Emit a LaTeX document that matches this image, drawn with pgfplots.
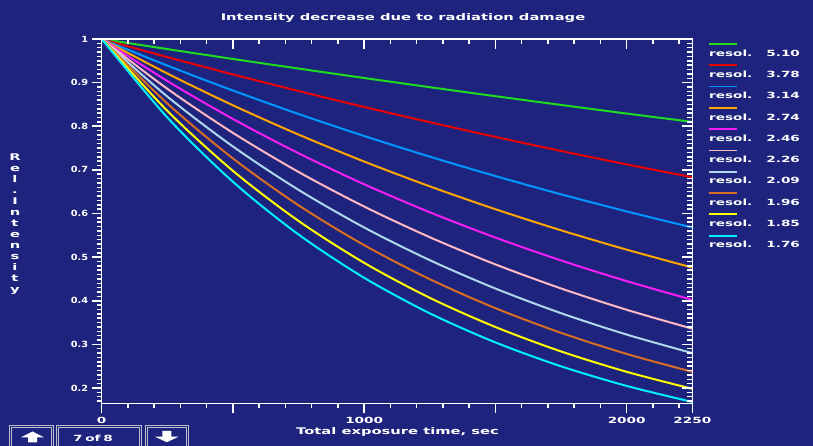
\documentclass[border=0pt]{standalone}
\usepackage{pgfplots}
\pgfplotsset{compat=1.18}
\usepackage{fontspec}
\newfontfamily\labfont{DejaVu Sans}[FakeStretch=1.6]
\newfontfamily\ylabfont{DejaVu Sans}[FakeStretch=1.15]
\newcommand\lf{\labfont\bfseries\fontsize{8.5}{10}\selectfont}
\newcommand\tf{\labfont\bfseries\fontsize{9.2}{11}\selectfont}
\newcommand\yf{\ylabfont\bfseries\fontsize{8.5}{10}\selectfont}
\definecolor{bg}{RGB}{30,36,125}
\definecolor{btn}{RGB}{190,190,205}
\definecolor{c1}{RGB}{30,220,30}
\definecolor{c2}{RGB}{235,0,0}
\definecolor{c3}{RGB}{0,150,255}
\definecolor{c4}{RGB}{255,165,0}
\definecolor{c5}{RGB}{245,30,245}
\definecolor{c6}{RGB}{255,185,195}
\definecolor{c7}{RGB}{173,216,235}
\definecolor{c8}{RGB}{215,110,35}
\definecolor{c9}{RGB}{255,255,0}
\definecolor{c10}{RGB}{0,240,255}
\begin{document}
\begin{tikzpicture}
\fill[bg] (0pt,0pt) rectangle (813pt,446pt);
\path[use as bounding box] (0pt,0pt) rectangle (813pt,446pt);
\begin{axis}[at={(101.7pt,42.5pt)}, anchor=south west, scale only axis,
    width=590.6pt, height=364.5pt,
    xmin=0, xmax=2250, ymin=0.1645, ymax=1,
    axis line style={draw=white, line width=1.2pt},
    xtick={0,500,1000,1500,2000,2250},
    minor xtick={100,200,300,400,600,700,800,900,1100,1200,1300,1400,1600,1700,1800,1900,2100,2200},
    ytick={0.2,0.3,0.4,0.5,0.6,0.7,0.8,0.9,1},
    minor ytick={0.17,0.18,0.19,0.21,0.22,0.23,0.24,0.25,0.26,0.27,0.28,0.29,0.31,0.32,0.33,0.34,0.35,0.36,0.37,0.38,0.39,0.41,0.42,0.43,0.44,0.45,0.46,0.47,0.48,0.49,0.51,0.52,0.53,0.54,0.55,0.56,0.57,0.58,0.59,0.61,0.62,0.63,0.64,0.65,0.66,0.67,0.68,0.69,0.71,0.72,0.73,0.74,0.75,0.76,0.77,0.78,0.79,0.81,0.82,0.83,0.84,0.85,0.86,0.87,0.88,0.89,0.91,0.92,0.93,0.94,0.95,0.96,0.97,0.98,0.99},
    major tick length=10pt, minor tick length=5pt,
    tick align=outside, xtick pos=bottom, ytick pos=left,
    ytick style={draw=white, line width=1.5pt},
    xtick style={draw=white, line width=1.5pt},
    xticklabels={0,,1000,,2000,2250},
    yticklabels={0.2,0.3,0.4,0.5,0.6,0.7,0.8,0.9,1},
    xticklabel style={font=\lf, text=white},
    yticklabel style={font=\yf, text=white},
    legend style={at={(1.0232,0.9767)}, anchor=north west, draw=none, fill=none,
      text=white, font=\lf, column sep=0pt, row sep=14.8pt,
      nodes={inner sep=0pt, text height=6.5pt, text depth=0pt}},
    legend cell align=left,
    legend image code/.code={\draw[#1, overlay, line width=1.8pt] (0pt,9pt) -- (28pt,9pt);},
]
\addplot[c1, line width=2pt, smooth] coordinates {(0,1) (250,0.9769) (500,0.9542) (750,0.9322) (1000,0.9106) (1250,0.8895) (1500,0.8689) (1750,0.8488) (2000,0.8291) (2250,0.8100)};
\addlegendentry{resol.\hspace{14pt}5.10}
\addplot[c2, line width=2pt, smooth] coordinates {(0,1) (250,0.9585) (500,0.9188) (750,0.8807) (1000,0.8442) (1250,0.8092) (1500,0.7756) (1750,0.7434) (2000,0.7126) (2250,0.6831)};
\addlegendentry{resol.\hspace{14pt}3.78}
\addplot[c3, line width=2pt, smooth] coordinates {(0,1) (250,0.9391) (500,0.8819) (750,0.8281) (1000,0.7777) (1250,0.7303) (1500,0.6858) (1750,0.6440) (2000,0.6048) (2250,0.5679)};
\addlegendentry{resol.\hspace{14pt}3.14}
\addplot[c4, line width=2pt, smooth] coordinates {(0,1) (250,0.9209) (500,0.8480) (750,0.7809) (1000,0.7191) (1250,0.6622) (1500,0.6098) (1750,0.5615) (2000,0.5171) (2250,0.4761)};
\addlegendentry{resol.\hspace{14pt}2.74}
\addplot[c5, line width=2pt, smooth] coordinates {(0,1) (250,0.9037) (500,0.8167) (750,0.7381) (1000,0.6670) (1250,0.6028) (1500,0.5448) (1750,0.4924) (2000,0.4450) (2250,0.4021)};
\addlegendentry{resol.\hspace{14pt}2.46}
\addplot[c6, line width=2pt, smooth] coordinates {(0,1) (250,0.8859) (500,0.7848) (750,0.6952) (1000,0.6159) (1250,0.5456) (1500,0.4833) (1750,0.4282) (2000,0.3793) (2250,0.3360)};
\addlegendentry{resol.\hspace{14pt}2.26}
\addplot[c7, line width=2pt, smooth] coordinates {(0,1) (250,0.8681) (500,0.7536) (750,0.6542) (1000,0.5679) (1250,0.4930) (1500,0.4280) (1750,0.3715) (2000,0.3225) (2250,0.2800)};
\addlegendentry{resol.\hspace{14pt}2.09}
\addplot[c8, line width=2pt, smooth] coordinates {(0,1) (250,0.8522) (500,0.7262) (750,0.6188) (1000,0.5274) (1250,0.4494) (1500,0.3830) (1750,0.3264) (2000,0.2781) (2250,0.2370)};
\addlegendentry{resol.\hspace{14pt}1.96}
\addplot[c9, line width=2pt, smooth] coordinates {(0,1) (250,0.8353) (500,0.6978) (750,0.5829) (1000,0.4869) (1250,0.4067) (1500,0.3398) (1750,0.2838) (2000,0.2371) (2250,0.1981)};
\addlegendentry{resol.\hspace{14pt}1.85}
\addplot[c10, line width=2pt, smooth] coordinates {(0,1) (250,0.8202) (500,0.6727) (750,0.5518) (1000,0.4526) (1250,0.3712) (1500,0.3045) (1750,0.2497) (2000,0.2048) (2250,0.1680)};
\addlegendentry{resol.\hspace{14pt}1.76}
\end{axis}
\begin{axis}[at={(101.7pt,42.5pt)}, anchor=south west, scale only axis,
    width=590.6pt, height=364.5pt,
    xmin=0, xmax=2250, ymin=0.1645, ymax=1,
    axis line style={draw=white, line width=1.2pt},
    xtick={0,500,1000,1500,2000,2250},
    minor xtick={100,200,300,400,600,700,800,900,1100,1200,1300,1400,1600,1700,1800,1900,2100,2200},
    ytick={0.2,0.3,0.4,0.5,0.6,0.7,0.8,0.9,1},
    minor ytick={0.17,0.18,0.19,0.21,0.22,0.23,0.24,0.25,0.26,0.27,0.28,0.29,0.31,0.32,0.33,0.34,0.35,0.36,0.37,0.38,0.39,0.41,0.42,0.43,0.44,0.45,0.46,0.47,0.48,0.49,0.51,0.52,0.53,0.54,0.55,0.56,0.57,0.58,0.59,0.61,0.62,0.63,0.64,0.65,0.66,0.67,0.68,0.69,0.71,0.72,0.73,0.74,0.75,0.76,0.77,0.78,0.79,0.81,0.82,0.83,0.84,0.85,0.86,0.87,0.88,0.89,0.91,0.92,0.93,0.94,0.95,0.96,0.97,0.98,0.99},
    major tick length=10pt, minor tick length=5pt,
    tick align=inside, xtick pos=top, ytick pos=right,
    tick style={draw=white, line width=1.5pt},
    xticklabels={}, yticklabels={},
]
\end{axis}
\begin{scope}[x=1pt,y=1pt]
\node[font=\tf, text=white] at (403,428) {Intensity decrease due to radiation damage};
\node[font=\tf, text=white, anchor=west] at (292.7,14.3) {Total exposure time, sec};
\node[font=\tf, text=white, align=center, inner sep=0pt] at (15,222) {R\\e\\l\\.\\I\\n\\t\\e\\n\\s\\i\\t\\y};
\draw[btn, line width=0.8pt] (9.5,-2) rectangle (53,20.3);
\draw[btn, line width=0.5pt] (11.5,-2) rectangle (51,18.3);
\draw[btn, line width=0.8pt] (56,-2) rectangle (141.7,20.3);
\draw[btn, line width=0.5pt] (58,-2) rectangle (139.7,18.3);
\draw[btn, line width=0.8pt] (145.7,-2) rectangle (188.3,20.3);
\draw[btn, line width=0.5pt] (147.7,-2) rectangle (186.3,18.3);
\fill[white] (21,8.7) -- (32.5,14.5) -- (44,8.7) -- (37,8.7) -- (37,3.5) -- (28,3.5) -- (28,8.7) -- cycle;
\fill[white] (155,9.3) -- (166.8,3.8) -- (178.6,9.3) -- (171.3,9.3) -- (171.3,15) -- (162.3,15) -- (162.3,9.3) -- cycle;
\node[font=\lf, text=white] at (93,7.7) {7\,\,of\,\,8};
\end{scope}
\end{tikzpicture}
\end{document}
